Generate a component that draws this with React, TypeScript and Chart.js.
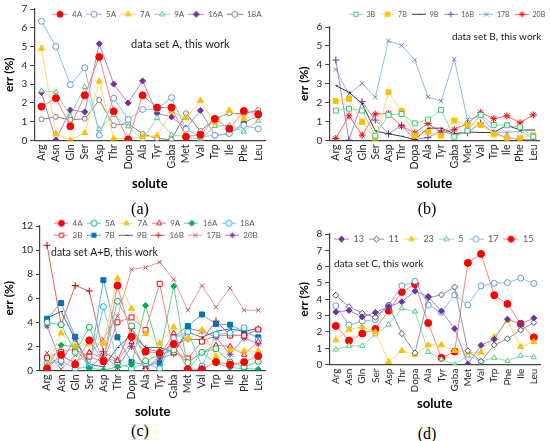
import { useEffect, useRef } from "react"
import { Chart, registerables, type ChartConfiguration } from "chart.js"
import { drawPoint } from "chart.js/helpers"

Chart.register(...registerables)

// solute order used in panels a-c; panel d swaps Ile and Phe
const SOLUTES = ["Arg", "Asn", "Gln", "Ser", "Asp", "Thr", "Dopa", "Ala", "Tyr", "Gaba", "Met", "Val", "Trp", "Ile", "Phe", "Leu"]
const SOLUTES_D = ["Arg", "Asn", "Gln", "Ser", "Asp", "Thr", "Dopa", "Ala", "Tyr", "Gaba", "Met", "Val", "Trp", "Phe", "Ile", "Leu"]

const TICKS_A = [0, 1, 2, 3, 4, 5, 6, 7]
const TICKS_B = [0, 1, 2, 3, 4, 5, 6]
const TICKS_C = [0, 2, 4, 6, 8, 10, 12]
const TICKS_D = [0, 1, 2, 3, 4, 5, 6, 7, 8]

// (a) data set A
const A_4A = [1.8, 2.25, 0.75, 2.4, 4.45, 1.55, 0.05, 2.4, 1.75, 1.75, 0.2, 0.3, 1.15, 0.62, 1.57, 1.4]
const A_5A = [6.35, 5.0, 2.97, 3.87, 0.28, 2.25, 1.12, 1.65, 1.67, 2.28, 0.6, 0.2, 0.27, 0.37, 0.8, 0.62]
const A_7A = [4.9, 0.35, 0.02, 0.4, 3.15, 0.1, 0.1, 0.2, 0.25, 1.55, 1.2, 2.12, 0.95, 1.6, 1.15, 1.4]
const A_9A = [2.65, 2.57, 1.3, 2.85, 0.6, 1.35, 0.75, 0.05, 1.2, 0.3, 0.2, 0.05, 0.77, 0.8, 0.47, 1.05]
const A_16A = [2.55, 0.02, 1.62, 1.52, 5.15, 3.0, 2.0, 3.17, 1.45, 1.25, 0.65, 1.6, 0.27, 0.35, 0.95, 1.3]
const A_18A = [1.12, 1.25, 1.1, 1.15, 2.15, 0.8, 0.9, 0.35, 0.1, 0.05, 1.45, 0.5, 1.15, 1.45, 1.42, 1.62]

// (b) data set B
const B_3B = [1.58, 1.68, 1.58, 0.25, 1.35, 1.4, 0.9, 1.1, 1.62, 0.2, 0.52, 1.35, 0.82, 0.8, 0.7, 0.2]
const B_7B = [2.08, 2.2, 0.98, 0.05, 2.55, 1.55, 0.25, 0.45, 0.25, 1.05, 0.82, 0.82, 0.32, 0.12, 0.12, 0.27]
const B_9B = [2.9, 2.55, 1.95, 0.5, 0.35, 0.22, 0.05, 0.65, 0.65, 0.35, 0.45, 0.42, 0.42, 0.8, 0.55, 0.55]
const B_16B = [4.25, 0.02, 2.05, 1.08, 0.35, 0.8, 0.05, 0.15, 0.5, 0.3, 0.4, 0.92, 0.4, 0.15, 0.05, 0.02]
const B_17B = [3.75, 2.45, 3.02, 2.28, 5.27, 5.02, 4.27, 2.3, 2.08, 4.3, 1.1, 1.3, 0.45, 0.42, 0.5, 0.1]
const B_20B = [0.1, 1.3, 0.28, 1.4, 1.42, 0.75, 0.4, 0.9, 0.42, 0.57, 0.9, 1.47, 1.15, 1.3, 0.93, 1.35]

// (c) data set A+B
const C_4A = [0.15, 1.3, 0.5, 2.5, 0.8, 7.05, 2.8, 1.55, 1.45, 2.2, 0.1, 0.1, 0.7, 0.5, 0.7, 1.2]
const C_5A = [4.0, 3.8, 1.5, 3.6, 0.8, 5.75, 3.7, 0.8, 1.3, 1.7, 0.65, 1.5, 1.8, 0.7, 0.3, 0.75]
const C_7A = [0.3, 3.1, 2.0, 2.2, 2.25, 7.65, 5.15, 3.05, 2.25, 3.6, 2.6, 3.35, 1.15, 1.7, 1.6, 1.6]
const C_9A = [0.4, 1.2, 0.65, 1.5, 0.95, 0.8, 2.35, 0.1, 1.2, 3.1, 0.7, 1.5, 2.1, 2.0, 1.3, 2.4]
const C_16A = [0.3, 2.1, 2.0, 0.2, 0.02, 0.3, 0.5, 5.4, 1.35, 7.0, 0.05, 1.5, 0.6, 0.25, 0.15, 0.1]
const C_18A = [0.55, 0.8, 0.15, 0.3, 5.3, 0.65, 0.15, 0.6, 0.15, 2.7, 3.2, 0.35, 3.0, 3.1, 3.55, 2.5]
const C_3B = [1.05, 1.55, 1.75, 1.15, 0.7, 4.0, 4.4, 3.35, 7.2, 1.5, 1.0, 2.4, 2.9, 2.9, 2.9, 3.4]
const C_7B = [4.3, 5.6, 2.8, 0.3, 7.5, 2.75, 0.7, 0.45, 0.6, 2.75, 3.7, 4.65, 3.85, 3.8, 3.2, 2.75]
const C_9B = [4.35, 4.9, 2.6, 0.5, 0.3, 1.9, 3.0, 1.9, 1.9, 1.5, 3.2, 2.75, 3.25, 3.45, 3.25, 3.5]
const C_16B = [10.4, 3.8, 7.05, 6.6, 1.55, 0.85, 3.5, 1.8, 1.55, 2.1, 2.6, 2.55, 4.1, 2.95, 2.9, 3.45]
const C_17B = [1.45, 0.1, 1.25, 1.35, 2.6, 4.5, 8.4, 8.55, 9.0, 7.55, 5.0, 7.05, 5.25, 6.85, 5.0, 5.0]
const C_20B = [3.7, 0.65, 2.65, 0.2, 1.25, 0.25, 2.0, 0.15, 0.95, 1.4, 3.5, 3.25, 2.75, 1.35, 2.7, 2.2]

// (d) data set C
const D_13 = [3.22, 3.32, 2.92, 3.2, 3.55, 3.85, 4.5, 4.17, 3.28, 2.2, 0.03, 1.18, 1.55, 2.78, 2.48, 2.85]
const D_11 = [4.25, 3.55, 3.15, 2.9, 3.65, 1.9, 0.72, 4.1, 4.27, 4.75, 0.85, 0.2, 1.2, 1.58, 2.12, 2.57]
const D_23 = [1.5, 2.15, 2.32, 2.0, 0.18, 0.85, 0.62, 1.2, 1.2, 0.85, 0.75, 0.75, 1.7, 2.7, 1.1, 1.4]
const D_5 = [0.92, 1.15, 1.15, 1.85, 2.45, 3.45, 3.25, 0.78, 0.33, 0.0, 0.55, 0.2, 0.42, 0.22, 0.55, 0.45]
const D_17 = [3.6, 2.42, 2.67, 2.75, 3.62, 4.82, 5.12, 3.65, 3.2, 4.27, 3.65, 4.82, 4.98, 5.02, 5.3, 4.97]
const D_15 = [2.37, 1.47, 1.9, 2.18, 3.3, 4.45, 4.93, 2.55, 0.42, 0.8, 6.23, 6.78, 4.25, 3.72, 2.5, 1.67]

const FONT = "Lato, 'Liberation Sans', sans-serif"
const AXIS = "#404040"

type Series = {
  label: string
  data: number[]
  color: string
  line?: string
  style: string
  open?: boolean
  r?: number
}

type PanelProps = {
  labels: string[]
  ticks: number[]
  series: Series[]
  left: number
  top: number
  width: number
  height: number
  padding: { left: number; right: number; top: number; bottom: number }
  tickFont: number
  titleGap: number
  legendX: number
  legendY: number
  legendW: number
  legendFont: number
  legendGap: number
  iconW: number
  note: string
  noteX: number
  noteY: number
  noteSize: number
}

function legendIcon(s: Series, w: number) {
  const c = document.createElement("canvas")
  c.width = w
  c.height = 9
  const ctx = c.getContext("2d")!
  ctx.strokeStyle = s.line || s.color
  ctx.lineWidth = 1
  ctx.beginPath()
  ctx.moveTo(0, 4.5)
  ctx.lineTo(w, 4.5)
  ctx.stroke()
  ctx.fillStyle = s.open ? "#ffffff" : s.color
  ctx.strokeStyle = s.color
  ctx.lineWidth = 1
  drawPoint(ctx, { pointStyle: s.style as any, rotation: 0, radius: s.style === "dash" ? 2.5 : 3, borderWidth: 1 }, w / 2, 4.5)
  return c
}

// text note inside the plot
const notePlugin = {
  id: "note",
  afterDraw(chart: Chart, _args: unknown, opts: any) {
    const ctx = chart.ctx
    ctx.save()
    ctx.font = `${opts.size}px ${FONT}`
    ctx.fillStyle = "#1a1a1a"
    ctx.textBaseline = "middle"
    ctx.fillText(opts.text, opts.x, opts.y)
    ctx.restore()
  },
}

// legend takes no layout room and is placed over the plot like in the Excel figure
const legendPlace = {
  id: "legendPlace",
  beforeLayout(chart: Chart) {
    const lg: any = (chart as any).legend
    if (lg && !lg._zeroFit) {
      const fit = lg.fit.bind(lg)
      lg.fit = function () {
        fit()
        this.height = 0
      }
      lg._zeroFit = true
    }
  },
  afterLayout(chart: Chart, _args: unknown, opts: any) {
    const lg: any = (chart as any).legend
    if (!lg) return
    const ih = opts.font * 1.2
    lg.left = opts.x - opts.pad
    lg.right = opts.x - opts.pad + opts.w
    lg.top = opts.y - ih / 2 - opts.pad
    lg.bottom = lg.top + 40
  },
}

function Panel(p: PanelProps) {
  const ref = useRef<HTMLCanvasElement>(null)

  useEffect(() => {
    if (!ref.current) return
    const yMax = p.ticks[p.ticks.length - 1]
    const step = p.ticks[1] - p.ticks[0]
    const icons = p.series.map((s) => legendIcon(s, p.iconW))

    const config: ChartConfiguration = {
      type: "line",
      data: {
        labels: p.labels,
        datasets: p.series.map((s) => ({
          label: s.label,
          data: s.data,
          borderColor: s.line || s.color,
          borderWidth: 1,
          pointStyle: s.style as any,
          pointRadius: s.r ?? 3,
          pointBorderWidth: 1,
          pointBorderColor: s.color,
          pointBackgroundColor: s.open ? "#ffffff" : s.color,
          tension: 0,
          fill: false,
        })),
      },
      options: {
        animation: false,
        responsive: false,
        maintainAspectRatio: false,
        layout: { padding: p.padding },
        scales: {
          x: {
            type: "category",
            offset: true,
            grid: { display: false, drawTicks: false },
            border: { display: true, color: AXIS, width: 1.2 },
            ticks: {
              autoSkip: false,
              minRotation: 90,
              maxRotation: 90,
              padding: 4,
              color: "#262626",
              font: { family: FONT, size: p.tickFont },
            },
            title: {
              display: true,
              text: "solute",
              color: "#000",
              padding: { top: p.titleGap, bottom: 0 },
              font: { family: FONT, size: 13, weight: "bold" },
            },
          },
          y: {
            min: 0,
            max: yMax,
            grid: { display: true, drawOnChartArea: false, drawTicks: true, tickLength: 4, color: AXIS },
            border: { display: true, color: AXIS, width: 1.2 },
            ticks: {
              stepSize: step,
              padding: 3,
              color: "#262626",
              font: { family: FONT, size: 10 },
            },
            title: {
              display: true,
              text: "err (%)",
              color: "#000",
              padding: { top: 0, bottom: 2 },
              font: { family: FONT, size: 12, weight: "bold" },
            },
          },
        },
        plugins: {
          tooltip: { enabled: false },
          legend: {
            position: "top",
            align: "start",
            labels: {
              usePointStyle: true,
              pointStyleWidth: p.iconW,
              boxHeight: 8,
              padding: p.legendGap,
              color: "#595959",
              font: { family: FONT, size: p.legendFont },
              generateLabels: (chart: Chart) =>
                Chart.defaults.plugins.legend.labels.generateLabels(chart).map((item, i) => ({
                  ...item,
                  pointStyle: icons[i] as any,
                })),
            },
          },
          note: { text: p.note, x: p.noteX, y: p.noteY, size: p.noteSize },
          legendPlace: { x: p.legendX, y: p.legendY, w: p.legendW, pad: p.legendGap, font: p.legendFont },
        } as any,
      },
      plugins: [notePlugin, legendPlace],
    }

    const chart = new Chart(ref.current, config)
    return () => chart.destroy()
  }, [p])

  return (
    <canvas
      ref={ref}
      width={p.width}
      height={p.height}
      style={{ position: "absolute", left: p.left, top: p.top, width: p.width, height: p.height }}
    />
  )
}

const SERIES_A: Series[] = [
  { label: "4A", data: A_4A, color: "#ff0000", line: "#ff8080", style: "circle", r: 3.5 },
  { label: "5A", data: A_5A, color: "#5b9bd5", line: "#8fbce6", style: "circle", open: true },
  { label: "7A", data: A_7A, color: "#ffc000", line: "#ffd966", style: "triangle", r: 3.5 },
  { label: "9A", data: A_9A, color: "#4ec97f", line: "#8fdcad", style: "triangle", open: true },
  { label: "16A", data: A_16A, color: "#7030a0", line: "#a888c8", style: "rectRot" },
  { label: "18A", data: A_18A, color: "#7f7f7f", line: "#7f7f7f", style: "circle", open: true, r: 2.5 },
]

const SERIES_B: Series[] = [
  { label: "3B", data: B_3B, color: "#3cc46e", line: "#8edcaa", style: "rect", open: true, r: 3.5 },
  { label: "7B", data: B_7B, color: "#ffc000", line: "#ffd966", style: "rect", r: 3.5 },
  { label: "9B", data: B_9B, color: "#1a1a1a", line: "#404040", style: "dash", r: 2 },
  { label: "16B", data: B_16B, color: "#7030a0", line: "#a888c8", style: "cross", r: 3.5 },
  { label: "17B", data: B_17B, color: "#5b8bd0", line: "#9ab8e6", style: "crossRot", r: 3 },
  { label: "20B", data: B_20B, color: "#ff0000", line: "#ff6060", style: "star", r: 3.5 },
]

const SERIES_C: Series[] = [
  { label: "4A", data: C_4A, color: "#ff0000", line: "#ff8080", style: "circle", r: 3.5 },
  { label: "5A", data: C_5A, color: "#00b050", line: "#66d096", style: "circle", open: true },
  { label: "7A", data: C_7A, color: "#ffc000", line: "#ffd966", style: "triangle", r: 3.5 },
  { label: "9A", data: C_9A, color: "#ff0000", line: "#ff8080", style: "triangle", open: true },
  { label: "16A", data: C_16A, color: "#00b050", line: "#66d096", style: "rectRot" },
  { label: "18A", data: C_18A, color: "#00b0f0", line: "#66d0f6", style: "circle", open: true },
  { label: "3B", data: C_3B, color: "#ff0000", line: "#ff8080", style: "rect", open: true, r: 3.5 },
  { label: "7B", data: C_7B, color: "#0070c0", line: "#66a9d9", style: "rect", r: 3.5 },
  { label: "9B", data: C_9B, color: "#002060", line: "#4d6390", style: "dash", r: 2 },
  { label: "16B", data: C_16B, color: "#c00000", line: "#e06060", style: "cross", r: 3.5 },
  { label: "17B", data: C_17B, color: "#c0504d", line: "#e09a98", style: "crossRot" },
  { label: "20B", data: C_20B, color: "#7030a0", line: "#a888c8", style: "star", r: 3.5 },
]

const SERIES_D: Series[] = [
  { label: "13", data: D_13, color: "#7030a0", line: "#a888c8", style: "rectRot" },
  { label: "11", data: D_11, color: "#44546a", line: "#8a96a8", style: "rectRot", open: true },
  { label: "23", data: D_23, color: "#ffc000", line: "#ffd966", style: "triangle", r: 3.5 },
  { label: "5", data: D_5, color: "#4ec97f", line: "#8fdcad", style: "triangle", open: true },
  { label: "17", data: D_17, color: "#5b9bd5", line: "#8fbce6", style: "circle", open: true },
  { label: "15", data: D_15, color: "#ff0000", line: "#ff8080", style: "circle", r: 3.5 },
]

const PANELS: PanelProps[] = [
  {
    labels: SOLUTES, ticks: TICKS_A, series: SERIES_A,
    left: 0, top: 0, width: 275, height: 192,
    padding: { left: 2, right: 2, top: 5, bottom: 0 },
    tickFont: 10.5, titleGap: 3,
    legendX: 52, legendY: 15, legendW: 300, legendFont: 8, legendGap: 4, iconW: 16,
    note: "data set A, this work", noteX: 131, noteY: 44, noteSize: 11,
  },
  {
    labels: SOLUTES, ticks: TICKS_B, series: SERIES_B,
    left: 275, top: 0, width: 275, height: 192,
    padding: { left: 22, right: 2, top: 27, bottom: 0 },
    tickFont: 10.5, titleGap: 3,
    legendX: 74, legendY: 15, legendW: 300, legendFont: 7, legendGap: 5.5, iconW: 14,
    note: "data set B, this work", noteX: 177, noteY: 37, noteSize: 10,
  },
  {
    labels: SOLUTES, ticks: TICKS_C, series: SERIES_C,
    left: 0, top: 215, width: 275, height: 205,
    padding: { left: 2, right: 4, top: 11, bottom: 0 },
    tickFont: 10.5, titleGap: 1,
    legendX: 54, legendY: 9, legendW: 226, legendFont: 8, legendGap: 4, iconW: 14.5,
    note: "data set A+B, this work", noteX: 51, noteY: 38, noteSize: 10.5,
  },
  {
    labels: SOLUTES_D, ticks: TICKS_D, series: SERIES_D,
    left: 275, top: 215, width: 275, height: 197,
    padding: { left: 22, right: 4, top: 19, bottom: 0 },
    tickFont: 10, titleGap: 0,
    legendX: 59, legendY: 25, legendW: 300, legendFont: 9, legendGap: 5, iconW: 15,
    note: "data set C, this work", noteX: 59, noteY: 49, noteSize: 10,
  },
]

const CAPTIONS = [
  { text: "(a)", x: 140, y: 209 },
  { text: "(b)", x: 427, y: 209 },
  { text: "(c)", x: 140, y: 431 },
  { text: "(d)", x: 427, y: 434 },
]

export default function App() {
  return (
    <div style={{ position: "fixed", left: 0, top: 0, width: 550, height: 441, background: "#fff", overflow: "hidden" }}>
      {PANELS.map((p, i) => (
        <Panel key={i} {...p} />
      ))}
      {CAPTIONS.map((c) => (
        <div
          key={c.text}
          style={{
            position: "absolute",
            left: c.x - 20,
            top: c.y - 9,
            width: 40,
            textAlign: "center",
            font: "16px 'Liberation Serif', serif",
            lineHeight: "18px",
            color: "#000",
          }}
        >
          {c.text}
        </div>
      ))}
    </div>
  )
}
